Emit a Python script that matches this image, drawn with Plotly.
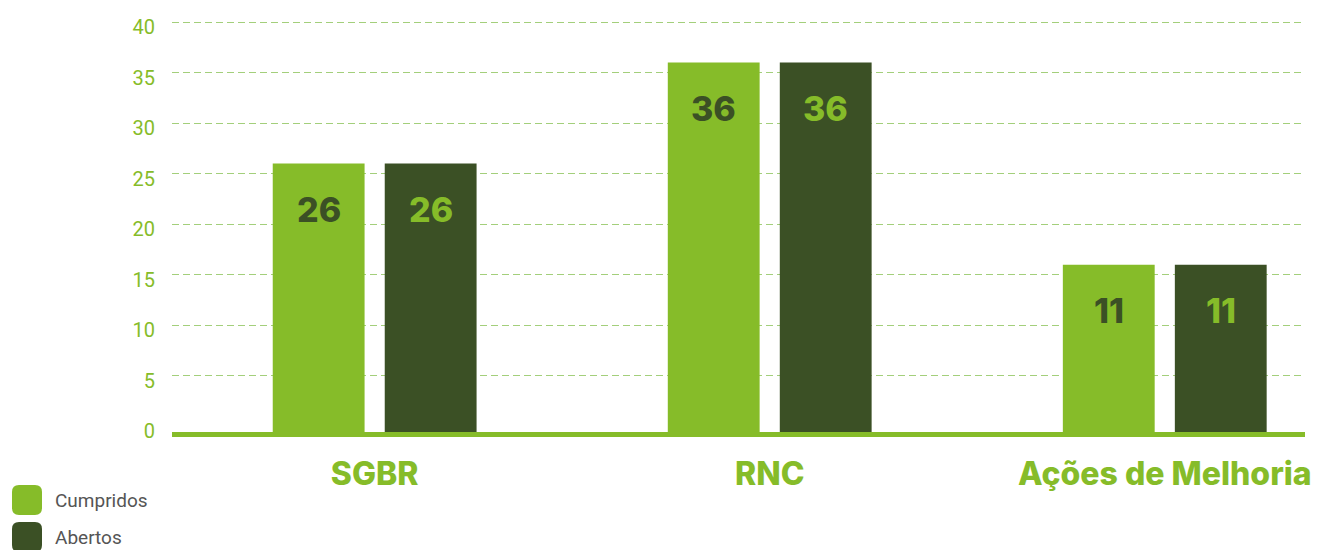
import plotly.graph_objects as go

categories = ["SGBR", "RNC", "Ações de Melhoria"]
cumpridos = [26, 36, 16]
abertos = [26, 36, 16]
# labels printed on the bars (the source prints 11 on the third pair)
cumpridos_labels = ["26", "36", "11"]
abertos_labels = ["26", "36", "11"]
y_ticks = [0, 5, 10, 15, 20, 25, 30, 35, 40]
series_names = ["Cumpridos", "Abertos"]

LIGHT = "#86BC29"
DARK = "#3B5025"
BOLD = "Inter"
FLOOR = -0.55  # the thick base line sits a little under zero

# the page body adds an 8px margin, so the figure is a bit smaller than the window
L, R, T, B = 164, 17, 13, 118
W, H = 1314, 542
PW, PH = W - L - R, H - T - B


def px_x(x):
    return (x - L) / PW


def px_y(y):
    return (H - B - y) / PH


def rounded_box(x0, y0, x1, y1, r):
    """SVG path of a rounded rectangle, figure pixels -> paper coords."""
    pts = [
        ("M", x0 + r, y0), ("L", x1 - r, y0), ("Q", x1, y0, x1, y0 + r),
        ("L", x1, y1 - r), ("Q", x1, y1, x1 - r, y1), ("L", x0 + r, y1),
        ("Q", x0, y1, x0, y1 - r), ("L", x0, y0 + r), ("Q", x0, y0, x0 + r, y0),
    ]
    out = []
    for p in pts:
        cmd, vals = p[0], p[1:]
        coords = []
        for i in range(0, len(vals), 2):
            coords.append(f"{px_x(vals[i]):.5f},{px_y(vals[i + 1]):.5f}")
        out.append(cmd + " ".join(coords))
    return " ".join(out) + " Z"


fig = go.Figure()
fig.add_trace(go.Bar(
    x=categories, y=[v - FLOOR for v in cumpridos], base=FLOOR,
    name=series_names[0], marker_color=LIGHT, marker_line_width=0,
))
fig.add_trace(go.Bar(
    x=categories, y=[v - FLOOR for v in abertos], base=FLOOR,
    name=series_names[1], marker_color=DARK, marker_line_width=0,
))

# value labels sit inside the bars, a little below the top
annotations = []
for cat, val, lab in zip(categories, cumpridos, cumpridos_labels):
    annotations.append(dict(
        x=cat, y=val, xref="x", yref="y", text=lab, showarrow=False,
        xshift=-56, yshift=-46,
        font=dict(family=BOLD, size=34, color=DARK, weight=800),
    ))
for cat, val, lab in zip(categories, abertos, abertos_labels):
    annotations.append(dict(
        x=cat, y=val, xref="x", yref="y", text=lab, showarrow=False,
        xshift=56, yshift=-46,
        font=dict(family=BOLD, size=34, color=LIGHT, weight=800),
    ))

# legend: big rounded swatches in the bottom-left corner
shapes = []
for i, (name, col) in enumerate(zip(series_names, [LIGHT, DARK])):
    top = 477 + i * 37
    shapes.append(dict(
        type="path", xref="paper", yref="paper",
        path=rounded_box(4, top, 34, top + 30, 7),
        fillcolor=col, line=dict(width=0),
    ))
    annotations.append(dict(
        x=px_x(45), y=px_y(top + 15), xref="paper", yref="paper",
        xanchor="left", yanchor="middle", text=name, showarrow=False,
        font=dict(family="Roboto", size=19, color="#555555"),
    ))

fig.update_layout(
    width=W, height=H,
    margin=dict(l=L, r=R, t=T, b=B, autoexpand=False),
    barmode="group", bargap=0.433, bargroupgap=0.18,
    plot_bgcolor="white", paper_bgcolor="white",
    font=dict(family="Roboto", color=LIGHT),
    showlegend=False,
    annotations=annotations,
    shapes=shapes,
    xaxis=dict(
        range=[-0.513, 2.355], automargin=False,
        showgrid=False, showline=True, linewidth=5, linecolor=LIGHT,
        ticks="", ticklabelstandoff=10,
        tickfont=dict(family=BOLD, size=32, color=LIGHT, weight=800),
    ),
    yaxis=dict(
        range=[FLOOR, 40.1], tickvals=y_ticks, automargin=False,
        showgrid=False, zeroline=False, showline=False,
        # dashed grid only above zero; the base line replaces the 0 grid
        minor=dict(
            tickvals=y_ticks[1:], showgrid=True, gridcolor="#A3CF7B",
            griddash="7px,4px", gridwidth=1, ticks="",
        ),
        ticklabelstandoff=16, ticklabelshift=5,
        tickfont=dict(family="Roboto", size=20, color=LIGHT),
    ),
)

fig.write_html("out.html")
